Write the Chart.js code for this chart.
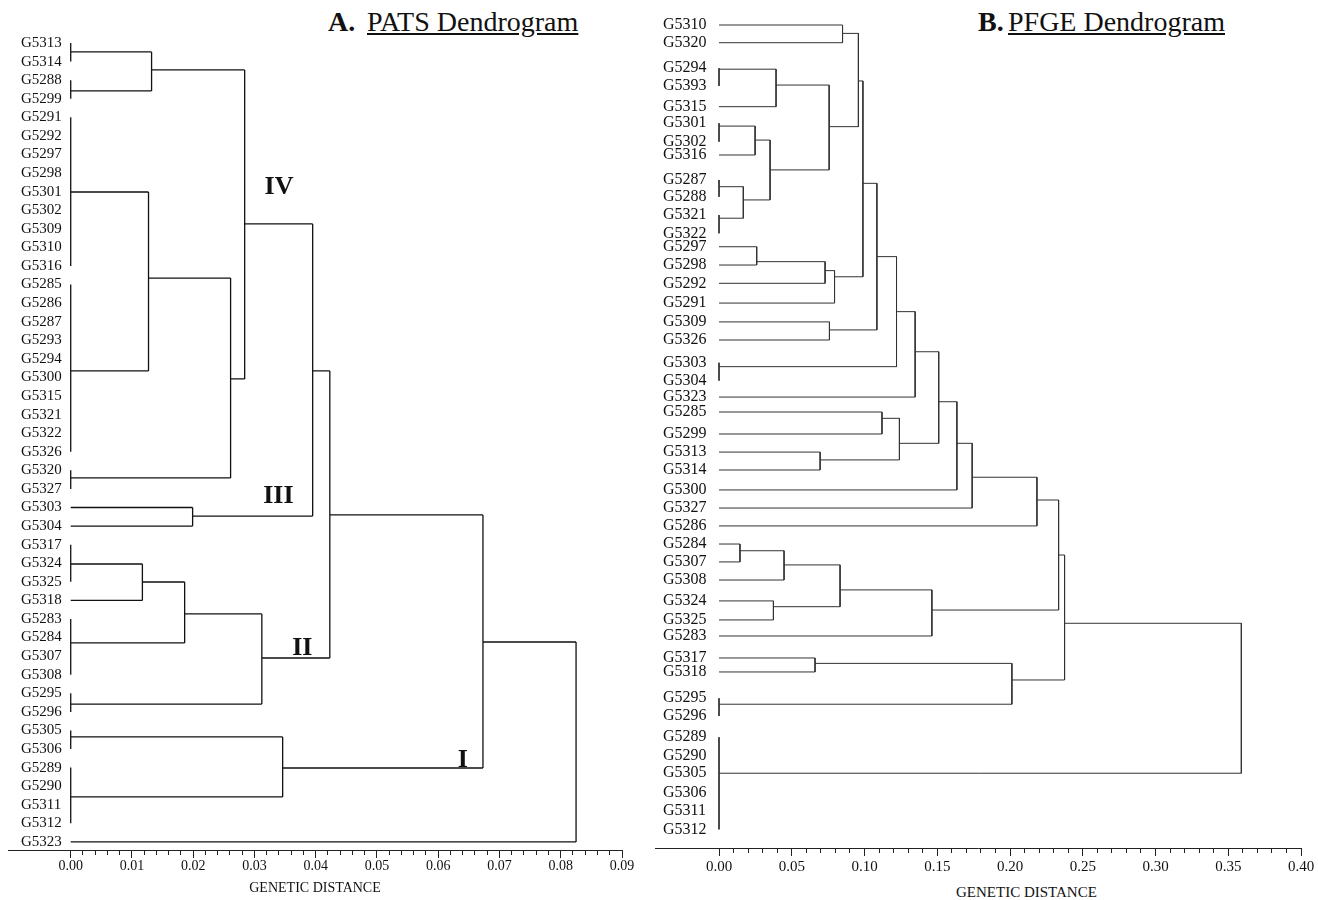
<!DOCTYPE html>
<html>
<head>
<meta charset="utf-8">
<script src="https://cdn.jsdelivr.net/npm/chart.js@4.4.0/dist/chart.umd.min.js"></script>
<style>
  body { margin: 0; background: #fff; width: 1318px; height: 900px; position: relative; overflow: hidden;
         font-family: "Liberation Serif", "Times New Roman", serif; color: #111; }
  canvas { position: absolute; top: 0; }
  .ttl { position: absolute; top: 8px; font-size: 28px; line-height: 28px; white-space: nowrap; }
  .axt { position: absolute; font-size: 15px; line-height: 15px; white-space: nowrap; }
</style>
</head>
<body>
<div class="ttl" style="left:328px"><b>A.</b></div>
<div class="ttl" style="left:367px"><u>PATS Dendrogram</u></div>
<div class="ttl" style="left:978px"><b>B.</b></div>
<div class="ttl" style="left:1008px"><u>PFGE Dendrogram</u></div>
<div class="axt" style="left:956px; top:885px">GENETIC DISTANCE</div>

<canvas id="pats" width="640" height="900" style="left:0"></canvas>
<canvas id="pfge" width="678" height="900" style="left:640px"></canvas>

<script>
// ---- A. PATS dendrogram ----
const leavesA = ['G5313','G5314','G5288','G5299','G5291','G5292','G5297','G5298','G5301','G5302',
  'G5309','G5310','G5316','G5285','G5286','G5287','G5293','G5294','G5300','G5315','G5321','G5322',
  'G5326','G5320','G5327','G5303','G5304','G5317','G5324','G5325','G5318','G5283','G5284','G5307',
  'G5308','G5295','G5296','G5305','G5306','G5289','G5290','G5311','G5312','G5323'];
const leafRowsA = leavesA.map((_, i) => i);

const nodeIdsA  = ['gA','gB','gC','gD','gE','gF','gG','gH','gI','gJ',
                   'n0','n1','n2','n3','n4','n5','n6','n7','n8','n9','n10','n11','n12'];
const nodeDistA = [0,0,0,0,0,0,0,0,0,0,
                   0.0132,0.0127,0.0261,0.0284,0.0395,0.0199,0.0423,0.0312,0.0186,0.0117,0.0346,0.0673,0.0825];
const nodeRowA  = [0.48,2.58,8.02,17.65,23.41,28.04,32.29,35.58,37.35,40.58,
                   1.45,12.65,18.08,9.74,17.65,25.46,25.40,33.10,30.73,29.01,39.02,32.24,38];
const nodeKidsA = [
  ['G5313','G5314'],
  ['G5288','G5299'],
  ['G5291','G5292','G5297','G5298','G5301','G5302','G5309','G5310','G5316'],
  ['G5285','G5286','G5287','G5293','G5294','G5300','G5315','G5321','G5322','G5326'],
  ['G5320','G5327'],
  ['G5317','G5324','G5325'],
  ['G5283','G5284','G5307','G5308'],
  ['G5295','G5296'],
  ['G5305','G5306'],
  ['G5289','G5290','G5311','G5312'],
  ['gA','gB'],
  ['gC','gD'],
  ['n1','gE'],
  ['n0','n2'],
  ['n3','n5'],
  ['G5303','G5304'],
  ['n4','n7'],
  ['n8','gH'],
  ['n9','gG'],
  ['gF','G5318'],
  ['gI','gJ'],
  ['n6','n10'],
  ['n11','G5323']
];
const xTickValsA   = [0,0.01,0.02,0.03,0.04,0.05,0.06,0.07,0.08,0.09];
const xTickLabelsA = ['0.00','0.01','0.02','0.03','0.04','0.05','0.06','0.07','0.08','0.09'];
const clusterNames = ['IV','III','II','I'];
const clusterDist  = [0.034,0.0339,0.0378,0.064];
const clusterRow   = [7.75,24.38,32.56,38.59];

// ---- B. PFGE dendrogram ----
const leavesB = ['G5310','G5320','G5294','G5393','G5315','G5301','G5302','G5316','G5287','G5288',
  'G5321','G5322','G5297','G5298','G5292','G5291','G5309','G5326','G5303','G5304','G5323','G5285',
  'G5299','G5313','G5314','G5300','G5327','G5286','G5284','G5307','G5308','G5324','G5325','G5283',
  'G5317','G5318','G5295','G5296','G5289','G5290','G5305','G5306','G5311','G5312'];
const leafRowsB = [0.00,0.95,2.32,3.27,4.38,5.27,6.26,6.97,8.31,9.21,10.19,11.17,11.89,12.87,13.85,
  14.91,15.92,16.89,18.11,19.07,19.95,20.75,21.93,22.90,23.86,24.93,25.90,26.86,27.83,28.79,29.76,
  30.88,31.90,32.76,33.94,34.69,36.10,37.05,38.19,39.18,40.12,41.16,42.13,43.13];

const nodeIdsB  = ['g1','g2','g3','g4','g5','g6','g7','r1','a1','a2','a4','a3','r3','r2','b1','b2','b3',
                   'r4','c1','r5','r6','r7','d1','d2','r9','r8','r10','r11','r12','e1','e2','e5','e3',
                   'e4','r13','f1','f2','r14','r15'];
const nodeDistB = [0,0,0,0,0,0,0,0.0849,0.0392,0.0248,0.0167,0.0351,0.0757,0.0958,0.0259,0.0729,0.0794,
                   0.0989,0.0759,0.1085,0.122,0.1348,0.112,0.0695,0.124,0.151,0.1635,0.174,0.2185,0.0144,
                   0.0447,0.0374,0.0832,0.1463,0.2334,0.066,0.2013,0.2375,0.359];
const nodeRowB  = [2.37,5.42,8.67,10.36,18.32,36.42,40.12,0.45,3.22,6.17,9.38,7.77,5.45,3.00,12.69,13.17,
                   13.50,8.49,16.35,12.42,15.37,17.52,21.09,23.32,22.43,20.20,22.43,24.25,25.47,28.19,
                   28.95,31.19,30.29,31.37,28.42,34.23,35.12,32.08,36];
const nodeKidsB = [
  ['G5294','G5393'], ['G5301','G5302'], ['G5287','G5288'], ['G5321','G5322'], ['G5303','G5304'],
  ['G5295','G5296'], ['G5289','G5290','G5305','G5306','G5311','G5312'],
  ['G5310','G5320'], ['g1','G5315'], ['g2','G5316'], ['g3','g4'], ['a2','a4'], ['a1','a3'],
  ['r1','r3'], ['G5297','G5298'], ['b1','G5292'], ['b2','G5291'], ['r2','b3'], ['G5309','G5326'],
  ['r4','c1'], ['r5','g5'], ['r6','G5323'], ['G5285','G5299'], ['G5313','G5314'], ['d1','d2'],
  ['r7','r9'], ['r8','G5300'], ['r10','G5327'], ['r11','G5286'], ['G5284','G5307'], ['e1','G5308'],
  ['G5324','G5325'], ['e2','e5'], ['e3','G5283'], ['r12','e4'], ['G5317','G5318'], ['f1','g6'],
  ['r13','f2'], ['r14','g7']
];
const xTickValsB   = [0,0.05,0.10,0.15,0.20,0.25,0.30,0.35,0.40];
const xTickLabelsB = ['0.00','0.05','0.10','0.15','0.20','0.25','0.30','0.35','0.40'];

const SERIF = "'Liberation Serif', 'Times New Roman', serif";

// turn the merge table into elbow segments (null point = pen up)
function elbowPoints(leaves, rows, ids, dist, nodeRows, kids) {
  const pos = {};
  leaves.forEach((n, i) => { pos[n] = { x: 0, y: rows[i] }; });
  ids.forEach((id, i) => { pos[id] = { x: dist[i], y: nodeRows[i] }; });
  const pts = [];
  ids.forEach((id, i) => {
    const d = dist[i];
    const ys = kids[i].map(k => pos[k].y);
    pts.push({ x: d, y: Math.min(...ys) }, { x: d, y: Math.max(...ys) }, { x: null, y: null });
    kids[i].forEach(k => {
      if (pos[k].x < d) pts.push({ x: pos[k].x, y: pos[k].y }, { x: d, y: pos[k].y }, { x: null, y: null });
    });
  });
  return pts;
}

const clusterLabelPlugin = {
  id: 'clusterLabels',
  afterDatasetsDraw(chart) {
    const { ctx, scales } = chart;
    ctx.save();
    ctx.font = "bold 26px " + SERIF;
    ctx.fillStyle = '#111';
    ctx.textAlign = 'center';
    ctx.textBaseline = 'middle';
    clusterNames.forEach((t, i) => {
      ctx.fillText(t, scales.x.getPixelForValue(clusterDist[i]), scales.y.getPixelForValue(clusterRow[i]));
    });
    ctx.restore();
  }
};

function drawDendrogram(id, o) {
  const majors = o.tickVals.map(v => ({ value: v }));
  new Chart(document.getElementById(id), {
    type: 'scatter',
    data: {
      datasets: [{
        data: o.points,
        showLine: true,
        spanGaps: false,
        borderColor: o.lineColor,
        borderWidth: o.lineWidth,
        pointRadius: 0,
        tension: 0
      }]
    },
    options: {
      responsive: false,
      animation: false,
      events: [],
      layout: { padding: { left: 0, right: o.padRight, top: 0, bottom: 0 } },
      plugins: { legend: { display: false }, tooltip: { enabled: false } },
      scales: {
        x: {
          type: 'linear', position: 'bottom', weight: 1,
          min: o.xMin, max: o.xMax,
          afterBuildTicks: ax => { ax.ticks = majors.slice(); },
          afterFit: ax => { ax.height = o.xHeight; },
          grid: { drawOnChartArea: false, drawTicks: true, tickLength: 8, color: '#222', lineWidth: 1 },
          border: { display: true, color: '#222', width: 1 },
          ticks: {
            autoSkip: false, maxRotation: 0, padding: o.tickPad, color: '#111',
            font: { family: SERIF, size: o.tickFont },
            callback: (v, i) => o.tickLabels[i]
          },
          title: {
            display: o.showTitle, text: 'GENETIC DISTANCE', color: '#111',
            font: { family: SERIF, size: 14 }, padding: { top: 0, bottom: 3 }
          }
        },
        xMinor: {
          type: 'linear', position: 'bottom', weight: 0,
          min: o.xMin, max: o.xMax,
          afterBuildTicks: ax => {
            const t = [];
            const n = Math.round(o.xMax / o.minorStep);
            for (let k = 0; k <= n; k++) t.push({ value: k * o.minorStep });
            ax.ticks = t;
          },
          afterFit: ax => { ax.height = 0; },
          grid: { drawOnChartArea: false, drawTicks: true, tickLength: 5, color: '#222', lineWidth: 1 },
          border: { display: false },
          ticks: { display: false }
        },
        y: {
          type: 'linear', position: 'left', reverse: true,
          min: o.yMin, max: o.yMax,
          afterBuildTicks: ax => { ax.ticks = o.rows.map(v => ({ value: v })); },
          afterFit: ax => { ax.width = o.yWidth; ax.paddingTop = 0; ax.paddingBottom = 0; },
          grid: { display: false },
          border: { display: false },
          ticks: {
            mirror: true, crossAlign: 'near', autoSkip: false, padding: o.labelPad, color: '#111',
            font: { family: SERIF, size: o.labelFont },
            callback: (v, i) => o.leaves[i]
          }
        }
      }
    },
    plugins: o.plugins || []
  });
}

drawDendrogram('pats', {
  points: elbowPoints(leavesA, leafRowsA, nodeIdsA, nodeDistA, nodeRowA, nodeKidsA),
  leaves: leavesA, rows: leafRowsA,
  yMin: -2.3143, yMax: 43.434,
  xMin: -0.01024, xMax: 0.09,
  tickVals: xTickValsA, tickLabels: xTickLabelsA, minorStep: 0.002,
  lineColor: '#111', lineWidth: 1.3,
  padRight: 18, yWidth: 8, xHeight: 50,
  labelPad: 13, labelFont: 15, tickFont: 14, tickPad: 0, showTitle: true,
  plugins: [clusterLabelPlugin]
});

drawDendrogram('pfge', {
  points: elbowPoints(leavesB, leafRowsB, nodeIdsB, nodeDistB, nodeRowB, nodeKidsB),
  leaves: leavesB, rows: leafRowsB,
  yMin: -1.3405, yMax: 44.129,
  xMin: -0.044, xMax: 0.40,
  tickVals: xTickValsB, tickLabels: xTickLabelsB, minorStep: 0.01,
  lineColor: '#333', lineWidth: 1,
  padRight: 17, yWidth: 15, xHeight: 52,
  labelPad: 8, labelFont: 16, tickFont: 15, tickPad: 2, showTitle: false
});
</script>
</body>
</html>
